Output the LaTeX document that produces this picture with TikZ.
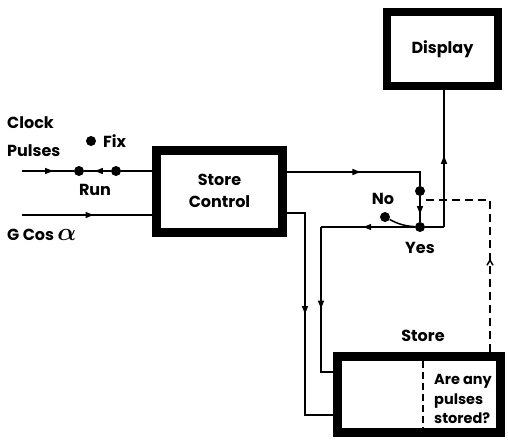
\documentclass[tikz,border=0pt]{standalone}
\usepackage{fontspec}
\setmainfont{Poppins}
\usetikzlibrary{arrows.meta,decorations.markings}

\tikzset{
  block/.style={draw, line width=9pt, fill=white, align=center, font=\fontsize{16}{22}\selectfont\bfseries},
  lbl/.style={inner sep=0pt, font=\fontsize{16}{28}\selectfont\bfseries},
  dot/.style={circle, fill, inner sep=0pt, minimum size=10pt},
  wire/.style={line width=1.5pt},
  midarrow/.style={postaction={decorate}, decoration={markings,
    mark=at position #1 with {\arrow{Triangle[length=8pt,width=6pt]}}}},
  openarrow/.style={postaction={decorate}, decoration={markings,
    mark=at position #1 with {\arrow[solid]{Straight Barb[length=5pt,width=6pt]}}}},
}

\begin{document}
\begin{tikzpicture}[x=1pt, y=-1pt]
\useasboundingbox (0,0) rectangle (508,440);
% blocks
\node[block, minimum width=126pt, minimum height=82pt] (sc) at (219.5,191) {Store\\Control};
\node[block, line width=8pt, minimum width=111pt, minimum height=74pt] (disp) at (442.5,49) {Display};
\node[block, minimum width=163pt, minimum height=76pt] (store) at (419,394.5) {};
\draw[wire, dashed, dash pattern=on 7pt off 4pt] (423,361) -- (423,428);
\node[lbl, anchor=west, align=left, font=\fontsize{14.5}{19.5}\selectfont\bfseries] (ask) at (434,399) {Are any\\pulses\\stored?};
\node[lbl] (stl) at (423,336) {Store};

% switch contacts
\node[dot] (run) at (79,171) {};
\node[dot] (fix) at (91,141) {};
\node[dot] (rd) at (116,171) {};
\node[dot] (up) at (420,191) {};
\node[dot] (yes) at (420,227) {};
\node[dot] (no) at (385,217) {};

% labels
\node[lbl, anchor=west, align=left] (clkl) at (7,137) {Clock\\Pulses};
\node[lbl, anchor=west] (fixl) at (103,141) {Fix};
\node[lbl] (runl) at (95,190) {Run};
\node[lbl, anchor=west] (gl) at (7,235) {G Cos {\fontsize{24}{24}\selectfont\boldmath$\alpha$}};
\node[lbl] (nol) at (383,199) {No};
\node[lbl] (yesl) at (420,248) {Yes};

% corners
\coordinate (clk) at (22,171);
\coordinate (gin) at (22,215);
\coordinate (tr) at (420,172);
\coordinate (yr) at (444,227);
\coordinate (yl) at (321,227);
\coordinate (ylb) at (321,372);
\coordinate (sl) at (305,213);
\coordinate (slb) at (305,415);
\coordinate (dk) at (420,200);
\coordinate (dr) at (490,200);

% wires
\draw[wire, midarrow=0.6] (clk) -- (run);
\draw[wire, midarrow=0.6] (rd) -- (run);
\draw[wire] (rd) -- (sc.west |- rd);
\draw[wire, midarrow=0.55] (gin) -- (sc.west |- gin);
\draw[wire, midarrow=0.5] (sc.east |- tr) -- (tr) -- (up);
\draw[wire, midarrow=0.7] (up) -- (yes);
\draw[wire] (no) to[bend right=12] (yes);
\draw[wire] (yes) -- (yr);
\draw[wire, midarrow=0.52] (yr) -- (disp.south -| yr);
\draw[wire, midarrow=0.55] (yes) -- (yl);
\draw[wire, midarrow=0.52] (yl) -- (ylb) -- (store.west |- ylb);
\draw[wire, midarrow=0.48] (sc.east |- sl) -- (sl) -- (slb) -- (store.west |- slb);
\draw[wire, dashed, dash pattern=on 8pt off 5pt, openarrow=0.42] (store.north -| dr) -- (dr) -- (dk);
\end{tikzpicture}
\end{document}
